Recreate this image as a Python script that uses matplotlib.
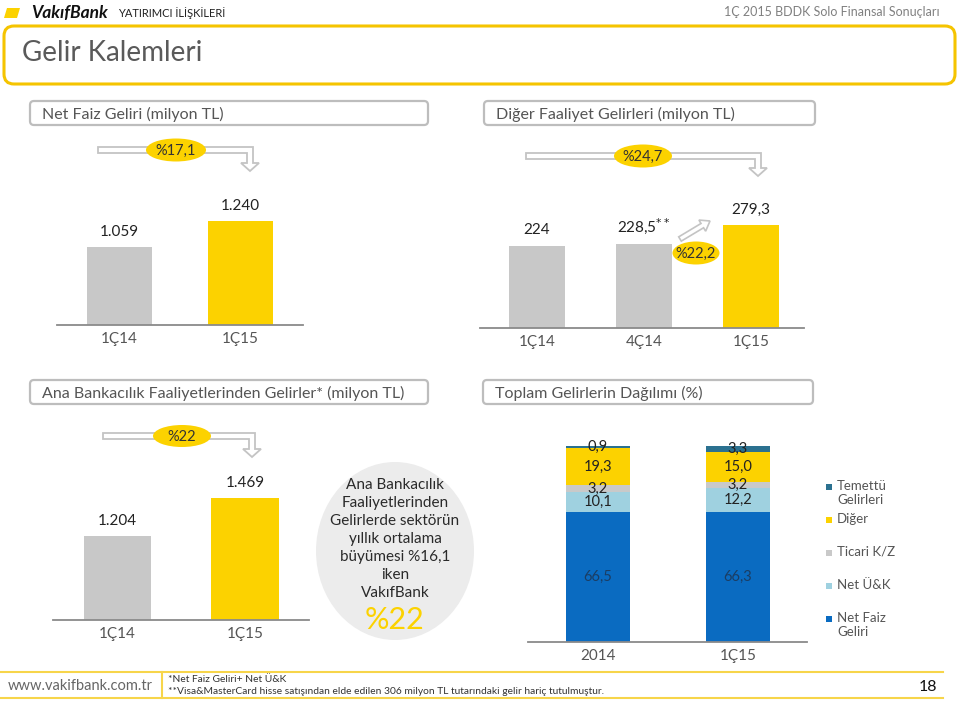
import matplotlib
matplotlib.use('Agg')
import matplotlib.pyplot as plt
from matplotlib.patches import FancyBboxPatch, Ellipse, Polygon, FancyArrow

plt.rcParams['font.family'] = ['Lato', 'DejaVu Sans']

# --- veriler ---
nfg_donem = ['1Ç14', '1Ç15']
nfg_deger = [1059, 1240]

dfg_donem = ['1Ç14', '4Ç14', '1Ç15']
dfg_deger = [224, 228.5, 279.3]

abf_donem = ['1Ç14', '1Ç15']
abf_deger = [1204, 1469]

dag_donem = ['2014', '1Ç15']
dag_seri = ['Net Faiz\nGeliri', 'Net Ü&K', 'Ticari K/Z', 'Diğer', 'Temettü\nGelirleri']
dag_deger = {
    'Net Faiz\nGeliri': [66.5, 66.3],
    'Net Ü&K': [10.1, 12.2],
    'Ticari K/Z': [3.2, 3.2],
    'Diğer': [19.3, 15.0],
    'Temettü\nGelirleri': [0.9, 3.3],
}
dag_renk = ['#0a6bc1', '#9fd1e0', '#c9c9c9', '#fcd200', '#2b7190']

GRI = '#c8c8c8'
SARI = '#fcd200'
W, H = 960, 704


def tr(v, dec=0):
    s = f"{v:,.{dec}f}"
    return s.replace(',', '#').replace('.', ',').replace('#', '.')


def px_axes(fig, x0, y0, x1, y1):
    ax = fig.add_axes([x0 / W, 1 - y1 / H, (x1 - x0) / W, (y1 - y0) / H])
    ax.set_facecolor('none')
    for s in ['top', 'right', 'left']:
        ax.spines[s].set_visible(False)
    ax.spines['bottom'].set_color('#8a8a8a')
    ax.spines['bottom'].set_linewidth(1.3)
    ax.set_yticks([])
    ax.tick_params(axis='x', length=0, pad=5, labelsize=11, labelcolor='#555555')
    return ax


def baslik_kutu(ax, x0, y0, x1, y1, metin):
    ax.add_patch(FancyBboxPatch((x0, y0), x1 - x0, y1 - y0,
                                boxstyle='round,pad=0,rounding_size=4',
                                fc='white', ec='#bdbdbd', lw=1.6))
    ax.text(x0 + 12, (y0 + y1) / 2 + 1, metin, fontsize=11.5, color='#555555',
            va='center', ha='left')


def akis_oku(ax, x0, x1, y, yalt):
    t = 3
    pts = [(x0, y - t), (x1 + t, y - t), (x1 + t, yalt - 8), (x1 + 9, yalt - 8),
           (x1, yalt), (x1 - 9, yalt - 8), (x1 - t, yalt - 8), (x1 - t, y + t), (x0, y + t)]
    ax.add_patch(Polygon(pts, closed=True, fc='white', ec='#c4c4c4', lw=1.3))


def elips(ax, x, y, w, h, metin):
    ax.add_patch(Ellipse((x, y), w, h, fc=SARI, ec='none'))
    ax.text(x, y + 1, metin, fontsize=10.5, color='#333333', ha='center', va='center')


fig = plt.figure(figsize=(9.6, 7.04), dpi=100)

# --- grafikler ---
# Net Faiz Geliri
ax1 = px_axes(fig, 57, 190, 303, 325)
b = ax1.bar(range(len(nfg_deger)), nfg_deger, width=0.54, color=[GRI, SARI])
ax1.set_xlim(-0.52, 1.52)
ax1.set_ylim(516, 1456)
ax1.set_xticks(range(len(nfg_donem)), nfg_donem)
ax1.bar_label(b, labels=[tr(v) for v in nfg_deger], padding=6, fontsize=11, color='#222222')

# Diğer Faaliyet Gelirleri
ax2 = px_axes(fig, 480, 190, 804, 328)
b = ax2.bar(range(len(dfg_deger)), dfg_deger, width=0.52, color=[GRI, GRI, SARI])
ax2.set_xlim(-0.533, 2.495)
ax2.set_ylim(0, 376)
ax2.set_xticks(range(len(dfg_donem)), dfg_donem)
etiket2 = [tr(dfg_deger[0]), tr(dfg_deger[1], 1) + r'$^{**}$', tr(dfg_deger[2], 1)]
ax2.bar_label(b, labels=etiket2, padding=6, fontsize=11, color='#222222')

# Ana Bankacılık Faaliyetlerinden Gelirler
ax3 = px_axes(fig, 53, 470, 309, 620)
b = ax3.bar(range(len(abf_deger)), abf_deger, width=0.53, color=[GRI, SARI])
ax3.set_xlim(-0.506, 1.502)
ax3.set_ylim(618, 1664)
ax3.set_xticks(range(len(abf_donem)), abf_donem)
ax3.bar_label(b, labels=[tr(v) for v in abf_deger], padding=6, fontsize=11, color='#222222')

# Toplam Gelirlerin Dağılımı
ax4 = px_axes(fig, 528, 440, 807, 642)
alt = [0.0] * len(dag_donem)
for seri, renk in zip(dag_seri, dag_renk):
    vals = dag_deger[seri]
    bb = ax4.bar(range(len(vals)), vals, bottom=alt, width=0.457, color=renk)
    yazi_renk = '#1b3d63' if seri.startswith('Net Faiz') else '#222222'
    ax4.bar_label(bb, labels=[tr(v, 1) for v in vals], label_type='center',
                  fontsize=10.5, color=yazi_renk)
    alt = [a + v for a, v in zip(alt, vals)]
ax4.set_xlim(-0.5, 1.493)
ax4.set_ylim(0, 103)
ax4.set_xticks(range(len(dag_donem)), dag_donem)

# --- süslemeler (piksel koordinatlı katman) ---
ov = fig.add_axes([0, 0, 1, 1], zorder=10)
ov.set_facecolor('none')
ov.set_xlim(0, W)
ov.set_ylim(H, 0)
ov.axis('off')

# üst bilgi
ov.add_patch(Polygon([(7, 8), (20, 8), (17, 18), (4, 18)], closed=True, fc=SARI, ec='none'))
ov.text(31, 13, 'VakıfBank', fontsize=12.5, fontweight='bold', fontstyle='italic',
        color='#111111', va='center')
ov.text(118, 13.5, 'YATIRIMCI İLİŞKİLERİ', fontsize=8, color='#222222', va='center')
ov.text(940, 12, '1Ç 2015 BDDK Solo Finansal Sonuçları', fontsize=9, color='#808080',
        ha='right', va='center')

ov.add_patch(FancyBboxPatch((4, 26), 951, 58, boxstyle='round,pad=0,rounding_size=10',
                            fc='white', ec='#f5c400', lw=2.2))
ov.text(22, 53, 'Gelir Kalemleri', fontsize=20, color='#5a5a5a', va='center')

# panel başlıkları
baslik_kutu(ov, 30, 101, 428, 125, 'Net Faiz Geliri (milyon TL)')
baslik_kutu(ov, 484, 101, 815, 125, 'Diğer Faaliyet Gelirleri (milyon TL)')
baslik_kutu(ov, 30, 380, 428, 404, 'Ana Bankacılık Faaliyetlerinden Gelirler* (milyon TL)')
baslik_kutu(ov, 483, 380, 813, 404, 'Toplam Gelirlerin Dağılımı (%)')

# büyüme okları
akis_oku(ov, 98, 250, 150, 171)
elips(ov, 176, 150, 60, 23, '%17,1')
akis_oku(ov, 526, 758, 156, 176)
elips(ov, 643, 156, 58, 23, '%24,7')
ov.add_patch(FancyArrow(680, 239, 30, -18, width=5, head_width=13, head_length=9,
                        fc='white', ec='#c4c4c4', lw=1.2, length_includes_head=True))
elips(ov, 696, 253, 47, 23, '%22,2')
akis_oku(ov, 103, 252, 436, 457)
elips(ov, 182, 436, 58, 22, '%22')

# daire içi metin
ov.add_patch(Ellipse((395, 551), 158, 178, fc='#ececec', ec='none'))
satirlar = ['Ana Bankacılık', 'Faaliyetlerinden', 'Gelirlerde sektörün', 'yıllık ortalama',
            'büyümesi %16,1', 'iken', 'VakıfBank']
for i, s in enumerate(satirlar):
    ov.text(395, 485 + i * 18, s, fontsize=11, color='#2a2a2a', ha='center', va='center')
ov.text(395, 620, '%22', fontsize=22, color=SARI, ha='center', va='center')

# lejant
ly = {'Temettü\nGelirleri': 487, 'Diğer': 520, 'Ticari K/Z': 553, 'Net Ü&K': 586,
      'Net Faiz\nGeliri': 619}
for seri, renk in zip(dag_seri, dag_renk):
    y = ly[seri]
    ov.add_patch(plt.Rectangle((826, y - 3), 6, 6, fc=renk, ec='none'))
    ov.text(837, y - 7, seri, fontsize=9.5, color='#555555', va='top', ha='left',
            linespacing=1.25)

# alt bilgi
ov.plot([0, 943], [672, 672], color='#f7d54a', lw=1.5)
ov.plot([0, 943], [698, 698], color='#f7d54a', lw=1.5)
ov.plot([162, 162], [672, 698], color='#f7d54a', lw=1.5)
ov.text(8, 686, 'www.vakifbank.com.tr', fontsize=10.5, color='#666666', va='center')
ov.text(168, 679, '*Net Faiz Geliri+ Net Ü&K', fontsize=7.4, color='#333333', va='center')
ov.text(168, 691, '**Visa&MasterCard hisse satışından elde edilen 306 milyon TL tutarındaki gelir hariç tutulmuştur.',
        fontsize=7.4, color='#333333', va='center')
ov.text(937, 687, '18', fontsize=11.5, color='#111111', ha='right', va='center')

plt.savefig('out.png', dpi=100)
